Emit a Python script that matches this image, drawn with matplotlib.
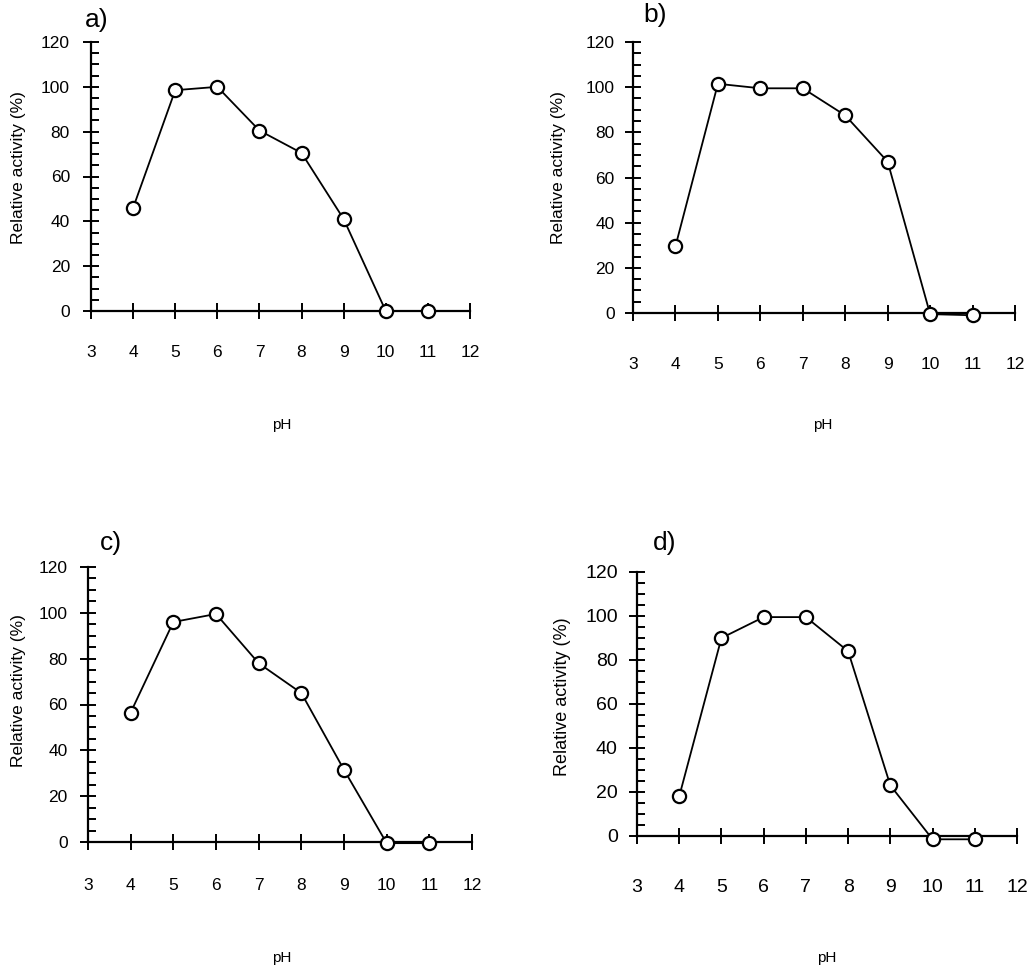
import matplotlib
matplotlib.use("Agg")
import matplotlib.pyplot as plt
from matplotlib.ticker import MultipleLocator

plt.rcParams["font.family"] = ["Liberation Sans", "DejaVu Sans"]

# -----------------------------
# data
# -----------------------------
ph = [4, 5, 6, 7, 8, 9, 10, 11]
act_a = [46, 98.5, 100, 80.5, 70.5, 41, 0, 0]
act_b = [29.5, 101.5, 99.5, 99.5, 87.5, 67, -0.5, -1]
act_c = [56.5, 96, 99.5, 78, 65, 31.5, -0.5, -0.5]
act_d = [18, 90, 99.5, 99.5, 84, 23, -1.5, -1.5]

panel_names = ["a)", "b)", "c)", "d)"]
series = [act_a, act_b, act_c, act_d]
x_ticks = list(range(3, 13))
y_ticks = list(range(0, 121, 20))

W, H = 1033, 969

# pixel boxes of each panel: left, right, bottom, top
boxes = [(91, 470, 311, 42), (633, 1015, 313, 42),
         (88, 472, 842, 567), (637, 1017, 836, 572)]
# label placement (axes coords) and paddings per panel
ylab_pos = [(-0.190, 0.535), (-0.196, 0.535), (-0.182, 0.55), (-0.197, 0.527)]
xlab_pos = [(0.504, -0.424), (0.497, -0.413), (0.505, -0.422), (0.50, -0.462)]
name_pos = [(-0.016, 1.082), (0.026, 1.10), (0.031, 1.087), (0.042, 1.11)]
xpad = [19.2, 26.3, 20.7, 25.6]
ypad = [9.7, 7.6, 9.0, 8.3]
tick_fs = [12.5, 12.5, 12.5, 14]
ylab_fs = [12.5, 12.5, 12.5, 13]

fig = plt.figure(figsize=(W / 100, H / 100), dpi=100)

for i in range(4):
    l, r, b, t = boxes[i]
    ax = fig.add_axes([l / W, 1 - b / H, (r - l) / W, (b - t) / H])

    ax.plot(ph, series[i], color="black", lw=1.3, marker="o", ms=9.5,
            mfc="white", mec="black", mew=1.6, clip_on=False, zorder=5)

    ax.set_xlim(3, 12)
    ax.set_ylim(0, 120)
    ax.set_xticks(x_ticks)
    ax.set_yticks(y_ticks)
    ax.yaxis.set_minor_locator(MultipleLocator(5))

    for s in ["top", "right"]:
        ax.spines[s].set_visible(False)
    for s in ["left", "bottom"]:
        ax.spines[s].set_linewidth(1.6)

    ax.tick_params(axis="x", direction="inout", length=11, width=1.4,
                   pad=xpad[i], labelsize=tick_fs[i])
    ax.tick_params(axis="y", which="major", direction="inout", length=11,
                   width=1.4, pad=ypad[i], labelsize=tick_fs[i])
    ax.tick_params(axis="y", which="minor", direction="in", length=5.5,
                   width=1.4)

    ax.text(*ylab_pos[i], "Relative activity (%)", transform=ax.transAxes,
            rotation=90, ha="center", va="center", fontsize=ylab_fs[i])
    ax.text(*xlab_pos[i], "pH", transform=ax.transAxes,
            ha="center", va="center", fontsize=11)
    ax.text(*name_pos[i], panel_names[i], transform=ax.transAxes,
            ha="left", va="center", fontsize=19)

fig.savefig("out.png", dpi=100)
plt.close(fig)
